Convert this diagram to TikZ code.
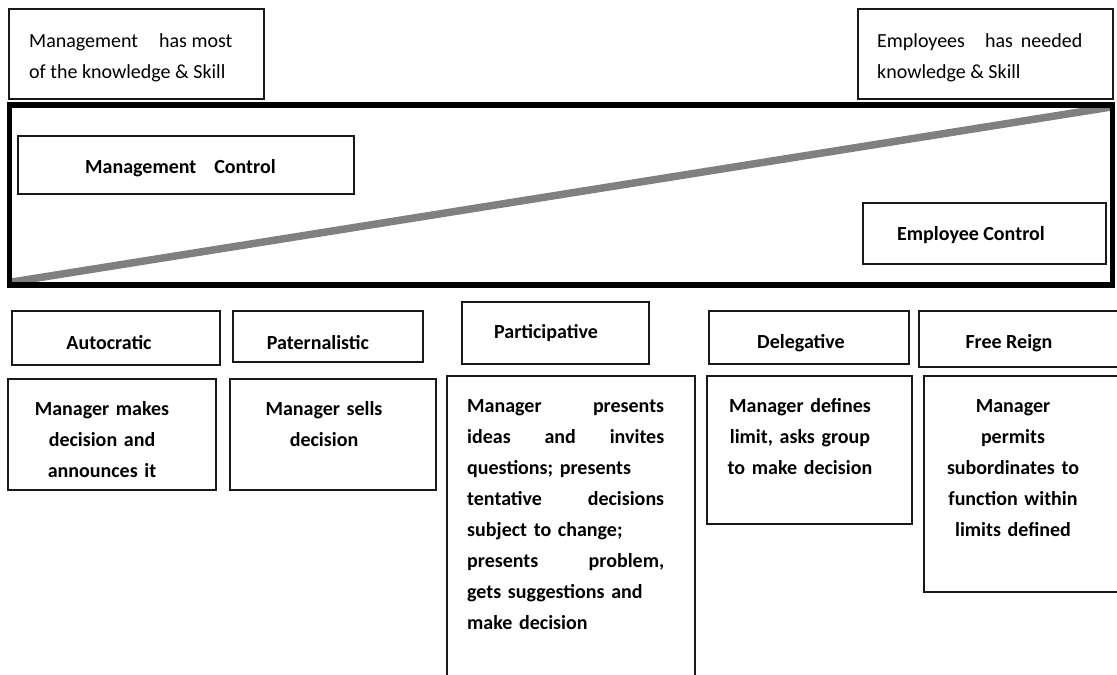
\documentclass[tikz,border=0pt]{standalone}
\usepackage{fontspec}
\setmainfont{Carlito}
\begin{document}
\begin{tikzpicture}[x=1pt,y=-1pt,
  box/.style={draw=black!90, line width=1.4pt},
  frame/.style={draw=black, line width=5.5pt},
  ramp/.style={draw=black!50, line width=7.5pt},
  txt/.style={inner sep=0pt, font=\fontsize{20}{31}\selectfont},
  btxt/.style={inner sep=0pt, font=\fontsize{20}{31}\selectfont\bfseries},
  para/.style={btxt, anchor=north, align=center, text width=#1},
]
\useasboundingbox (0,0) rectangle (1117,675);
\clip (0,0) rectangle (1117,675);

% top boxes
\draw[box] (9,9) rectangle (264,99);
\node[txt, anchor=base west] (mk1) at (29,47) {Management\hspace{21pt}has most};
\node[txt, anchor=base west] (mk2) at (29,78) {of the knowledge \& Skill};

\draw[box] (858,9) rectangle (1113,99);
\node[txt, anchor=base west] (ek1) at (877,47) {Employees\hspace{20pt}has\hspace{8pt}needed};
\node[txt, anchor=base west] (ek2) at (877,78) {knowledge \& Skill};

% control frame
\draw[ramp] (12,282) -- (1111,107);
\draw[frame] (9.5,105) rectangle (1112.5,285);

\draw[box] (18,136) rectangle (354,194);
\node[btxt, anchor=base west] (mc) at (85,173) {Management\hspace{18pt}Control};

\draw[box] (863,203) rectangle (1106,264);
\node[btxt, anchor=base west] (ec) at (897,240) {Employee Control};

% style headers
\draw[box] (12,311) rectangle (220,365);
\node[btxt, anchor=base] (h1) at (109,349) {Autocratic};
\draw[box] (233,311) rectangle (423,362);
\node[btxt, anchor=base] (h2) at (318,349) {Paternalistic};
\draw[box] (462,302) rectangle (649,364);
\node[btxt, anchor=base] (h3) at (546,338) {Participative};
\draw[box] (709,311) rectangle (909,364);
\node[btxt, anchor=base] (h4) at (801,348) {Delegative};
\draw[box] (919,311) rectangle (1130,367);
\node[btxt, anchor=base] (h5) at (1009,348) {Free Reign};

% descriptions
\draw[box] (8,379) rectangle (216,490);
\node[para=190pt] (d1) at (102,393.3) {\strut Manager makes\\decision and\\announces it};
\draw[box] (230,379) rectangle (436,490);
\node[para=190pt] (d2) at (324,393.3) {\strut Manager sells\\decision};

\draw[box] (447,376) rectangle (695,700);
\node[btxt, anchor=north west, align=left, text width=197pt] (d3) at (467,390.3)
  {\strut Manager\hfill presents\\
   ideas\hfill and\hfill invites\\
   questions; presents\\
   tentative\hfill decisions\\
   subject to change;\\
   presents\hfill problem,\\
   gets suggestions and\\
   make decision};

\draw[box] (707,376) rectangle (912,524);
\node[para=190pt] (d4) at (800,390.3) {\strut Manager defines\\limit, asks group\\to make decision};

\draw[box] (924,376) rectangle (1130,592);
\node[para=180pt] (d5) at (1013,390.3) {\strut Manager\\permits\\subordinates to\\function within\\limits defined};
\end{tikzpicture}
\end{document}
